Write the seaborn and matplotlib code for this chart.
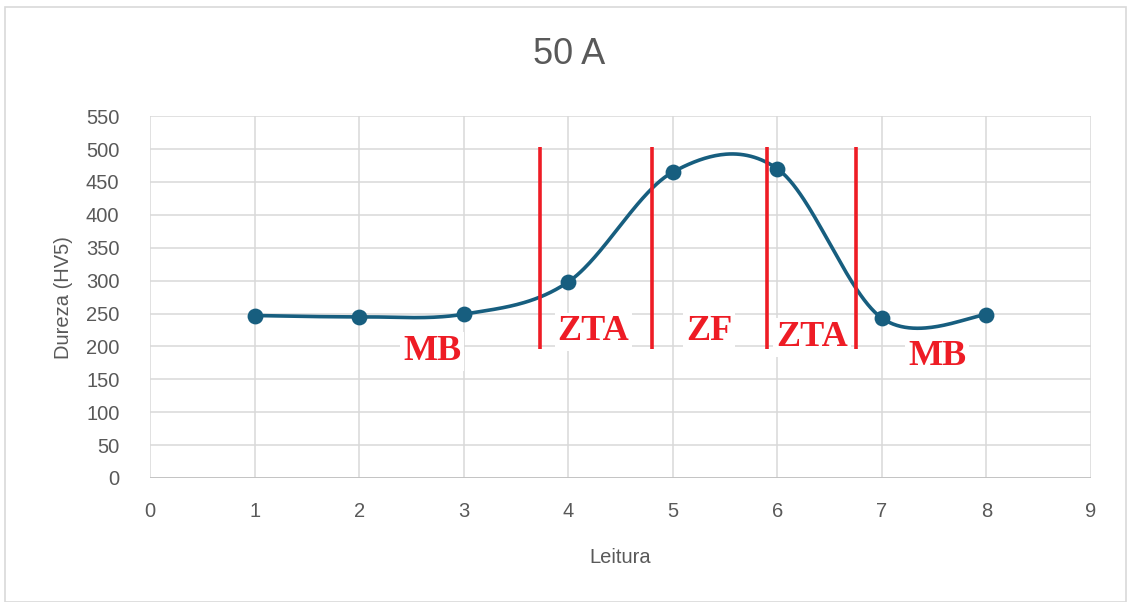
import numpy as np
import pandas as pd
import matplotlib
matplotlib.use("Agg")
import matplotlib.pyplot as plt
import seaborn as sns

# Hardness readings along the weld cross-section
leitura = [1, 2, 3, 4, 5, 6, 7, 8]
dureza = [247, 245, 249, 298, 465, 470, 243, 248]

# Zone boundaries (in reading units) and zone labels
limites = [3.73, 4.80, 5.90, 6.75]
limite_y = [196, 503]
zonas = ["MB", "ZTA", "ZF", "ZTA", "MB"]
zonas_x = [2.70, 4.24, 5.35, 6.33, 7.53]
zonas_y = [192, 222, 222, 214, 184]

titulo = "50 A"
xticks = list(range(0, 10))
yticks = list(range(0, 551, 50))


def smooth_curve(x, y, n=60):
    """Cardinal (Catmull-Rom style) spline through the points, as used for smoothed line charts."""
    x = np.asarray(x, float)
    y = np.asarray(y, float)
    px = np.concatenate([[x[0]], x, [x[-1]]])
    py = np.concatenate([[y[0]], y, [y[-1]]])
    xs, ys = [], []
    t = np.linspace(0, 1, n)
    for i in range(1, len(px) - 2):
        p0 = np.array([px[i], py[i]])
        p3 = np.array([px[i + 1], py[i + 1]])
        p1 = p0 + (np.array([px[i + 1], py[i + 1]]) - np.array([px[i - 1], py[i - 1]])) / 6
        p2 = p3 - (np.array([px[i + 2], py[i + 2]]) - np.array([px[i], py[i]])) / 6
        b = ((1 - t) ** 3)[:, None] * p0 + (3 * (1 - t) ** 2 * t)[:, None] * p1 \
            + (3 * (1 - t) * t ** 2)[:, None] * p2 + (t ** 3)[:, None] * p3
        xs.extend(b[:, 0])
        ys.extend(b[:, 1])
    return np.array(xs), np.array(ys)


sns.set_theme(style="whitegrid")
plt.rcParams["font.family"] = ["Liberation Sans", "DejaVu Sans"]

fig = plt.figure(figsize=(11.27, 6.02), dpi=100)
ax = fig.add_axes([0.1331, 0.206, 0.835, 0.601])

# Outer chart border
fig.patches.append(plt.Rectangle((0.004, 0.0), 0.995, 0.988, transform=fig.transFigure,
                                 fill=False, edgecolor="#d9d9d9", linewidth=1.2))

line_color = "#175e7f"
sx, sy = smooth_curve(leitura, dureza)
curve = pd.DataFrame({"x": sx, "y": sy})
pts = pd.DataFrame({"Leitura": leitura, "Dureza": dureza})

sns.lineplot(data=curve, x="x", y="y", sort=False, color=line_color, linewidth=2.6,
             ax=ax, zorder=3)
sns.scatterplot(data=pts, x="Leitura", y="Dureza", color=line_color, s=130,
                edgecolor=line_color, linewidth=0, ax=ax, zorder=4)

# Zone boundary lines
ax.vlines(limites, limite_y[0], limite_y[1], colors="#ee1c25", linewidth=2.6, zorder=5)

for label, zx, zy in zip(zonas, zonas_x, zonas_y):
    ax.text(zx, zy, label, color="#ee1c25", fontsize=26, fontweight="bold",
            family="Liberation Serif", ha="center", va="center", zorder=6,
            bbox=dict(boxstyle="square,pad=0.08", facecolor="white", edgecolor="none"))

ax.set_xlim(0, 9)
ax.set_ylim(0, 550)
ax.set_xticks(xticks)
ax.set_yticks(yticks)
ax.grid(True, color="#d9d9d9", linewidth=1.1)
for s in ax.spines.values():
    s.set_visible(False)
ax.axhline(0, color="#bfbfbf", linewidth=1.2, zorder=1)

ax.tick_params(axis="x", labelsize=14.5, labelcolor="#595959", length=0, pad=17)
ax.tick_params(axis="y", labelsize=14.5, labelcolor="#595959", length=0, pad=22)
ax.set_xlabel("Leitura", fontsize=14.5, color="#595959", labelpad=20)
ax.set_ylabel("Dureza (HV5)", fontsize=14.5, color="#595959", labelpad=9)
fig.text(0.505, 0.909, titulo, ha="center", va="center", fontsize=26, color="#595959",
         family=["Liberation Sans Narrow", "Liberation Sans"])

fig.savefig("out.png", dpi=100, facecolor="white")
